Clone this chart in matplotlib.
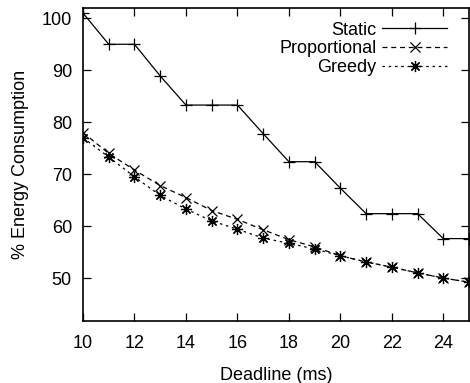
import numpy as np
import matplotlib
matplotlib.use('Agg')
from matplotlib import pyplot as plt

plt.rcParams['font.family'] = ['Liberation Sans', 'DejaVu Sans']

deadline = [10, 11, 12, 13, 14, 15, 16, 17, 18, 19, 20, 21, 22, 23, 24, 25]
static = [101.0, 95.0, 95.0, 88.9, 83.3, 83.3, 83.3, 77.8, 72.4, 72.4, 67.3, 62.4, 62.4, 62.4, 57.6, 57.6]
proportional = [78.0, 74.0, 70.8, 67.8, 65.5, 63.0, 61.3, 59.3, 57.4, 56.0, 54.3, 53.1, 52.1, 51.0, 50.0, 49.2]
greedy = [77.0, 73.3, 69.5, 65.9, 63.3, 61.0, 59.4, 57.7, 56.7, 55.6, 54.3, 53.1, 52.1, 51.0, 50.0, 49.2]

fig = plt.figure(figsize=(4.7, 3.83), dpi=100)
ax = fig.add_axes([0.1766, 0.1627, 0.8214, 0.8153])

ax.plot(deadline, static, color='black', lw=0.9, marker='+', ms=8, mew=0.9,
        label='Static')
ax.plot(deadline, proportional, color='black', lw=0.9, ls=(0, (4, 3)), marker='x',
        ms=7, mew=0.9, label='Proportional')
ax.plot(deadline, greedy, color='black', lw=0.9, ls=(0, (2, 3)), marker=(8, 2, 0),
        ms=8, mew=0.9, label='Greedy')

ax.set_xlim(10, 25)
ax.set_ylim(41.8, 101.9)
ax.set_xticks(np.arange(10, 25, 2))
ax.set_yticks(np.arange(50, 101, 10))
ax.tick_params(direction='in', top=True, right=True, length=6, width=0.9,
               labelsize=13)
ax.tick_params(axis='x', pad=10)
ax.tick_params(axis='y', pad=8)
for s in ax.spines.values():
    s.set_linewidth(1.2)

ax.set_xlabel('Deadline (ms)', fontsize=13, labelpad=11)
ax.set_ylabel('% Energy Consumption', fontsize=13, labelpad=9)

leg = ax.legend(loc='upper right', frameon=False, markerfirst=False, fontsize=13,
                handlelength=3.6, handletextpad=0.3, labelspacing=0.1,
                borderaxespad=0, borderpad=0, bbox_to_anchor=(0.943, 0.958))
for t in leg.get_texts():
    t.set_ha('right')
leg._legend_box.align = 'right'

fig.savefig('out.png', dpi=100)
